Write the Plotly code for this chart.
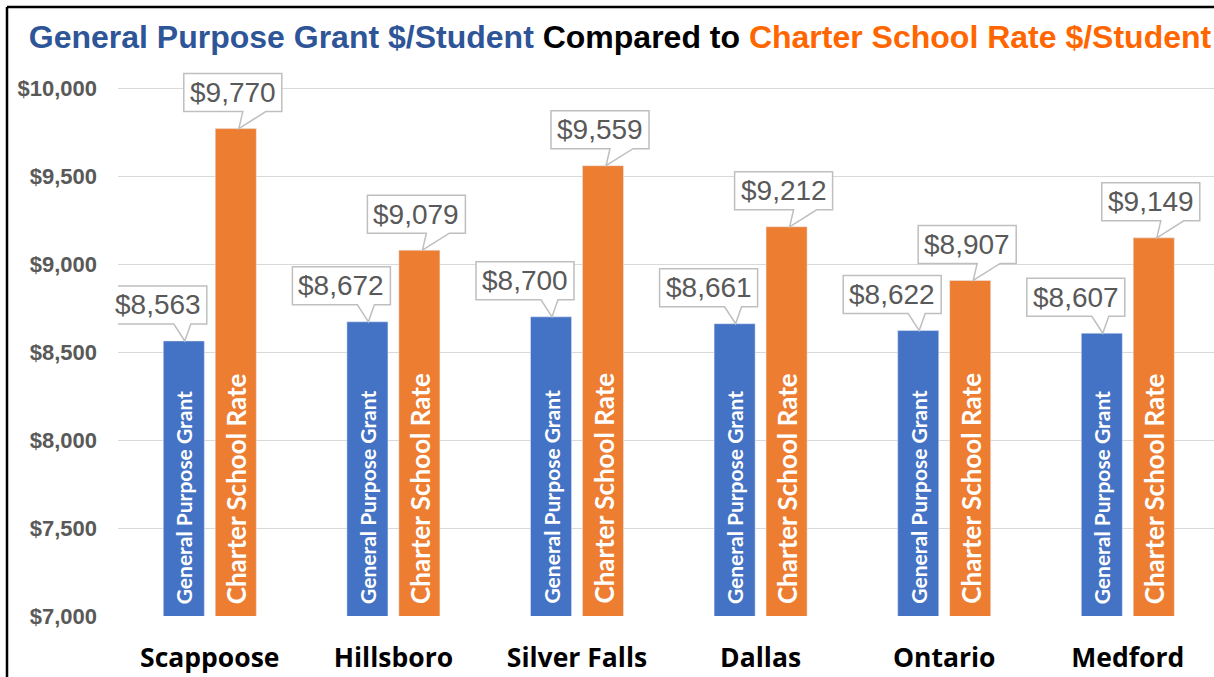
import plotly.graph_objects as go
import numpy as np

# ---- data ----
districts = ["Scappoose", "Hillsboro", "Silver Falls", "Dallas", "Ontario", "Medford"]
gpg_values = [8563, 8672, 8700, 8661, 8622, 8607]
charter_values = [9770, 9079, 9559, 9212, 8907, 9149]
series_names = ["General Purpose Grant", "Charter School Rate"]
y_ticks = [7000, 7500, 8000, 8500, 9000, 9500, 10000]
y_ticklabels = ["$7,000", "$7,500", "$8,000", "$8,500", "$9,000", "$9,500", "$10,000"]

BLUE = "#4472C4"
ORANGE = "#ED7D31"
x = np.arange(len(districts))
Y_BASE = y_ticks[0]

fig = go.Figure()
fig.add_trace(go.Bar(x=x, y=gpg_values, name=series_names[0], marker_color=BLUE, hoverinfo="none"))
fig.add_trace(go.Bar(x=x, y=charter_values, name=series_names[1], marker_color=ORANGE, hoverinfo="none"))

shapes = []
annotations = []

# ---- series names written inside the bars (rotated) ----
for i in range(len(districts)):
    for name, dx, size in ((series_names[0], -26, 21), (series_names[1], 26, 26)):
        annotations.append(dict(x=float(x[i]), y=Y_BASE, xref="x", yref="y", text=name,
                                showarrow=False, textangle=-90, xshift=dx, yshift=10,
                                xanchor="center", yanchor="bottom",
                                font=dict(family="Lato", size=size, color="white", weight="bold")))

# ---- callout data labels ----
BW, BH, GAP = 98, 38, 17
def callout(xi, val, bar_dx, box_dx, base_l, base_r, tip_dx):
    cx = bar_dx + box_dx
    path = (f"M {bar_dx + tip_dx} 0 L {bar_dx + base_r} {GAP} L {cx + BW/2} {GAP} "
            f"L {cx + BW/2} {GAP + BH} L {cx - BW/2} {GAP + BH} L {cx - BW/2} {GAP} "
            f"L {bar_dx + base_l} {GAP} Z")
    shapes.append(dict(type="path", xref="x", yref="y", xsizemode="pixel", ysizemode="pixel",
                       xanchor=xi, yanchor=val, path=path, fillcolor="white",
                       line=dict(color="#BFBFBF", width=1.5), layer="above"))
    annotations.append(dict(x=xi, y=val, xref="x", yref="y", text=f"${val:,}", showarrow=False,
                            xshift=cx, yshift=GAP + BH / 2, xanchor="center", yanchor="middle",
                            font=dict(family="Liberation Sans, Arial", size=28, color="#595959")))

for i in range(len(districts)):
    callout(float(x[i]), gpg_values[i], -26, -26, -10, 7, 1)
    callout(float(x[i]), charter_values[i], 26, -3, 7, 30, 3)

# ---- frame lines (left & top border) ----
W, H = 1214, 677
ML, MR, MT, MB = 118, 0, 67, 61
pw, ph = W - ML - MR, H - MT - MB
def px2paper_x(px):
    return (px - ML) / pw
def py2paper_y(py):
    return (H - MB - py) / ph
shapes.append(dict(type="line", xref="paper", yref="paper", x0=px2paper_x(7), x1=px2paper_x(7),
                   y0=py2paper_y(7), y1=py2paper_y(H + 5), line=dict(color="black", width=2.5)))
shapes.append(dict(type="line", xref="paper", yref="paper", x0=px2paper_x(7), x1=px2paper_x(W + 5),
                   y0=py2paper_y(7), y1=py2paper_y(7), line=dict(color="black", width=2.5)))

title_text = ("<span style='color:#2E5597'>General Purpose Grant $/Student</span> "
              "<span style='color:black'>Compared to</span> "
              "<span style='color:#FF6600'>Charter School Rate $/Student</span>")

fig.update_layout(
    width=W, height=H,
    margin=dict(l=ML, r=MR, t=MT, b=MB),
    paper_bgcolor="white", plot_bgcolor="white",
    barmode="group", bargap=0.434, bargroupgap=0.21,
    showlegend=False,
    title=dict(text=title_text, xref="container", yref="container", x=620 / W, y=1 - 37 / H,
               xanchor="center", yanchor="middle",
               font=dict(family="Liberation Sans, Arial", size=32, weight="bold")),
    shapes=shapes,
    annotations=annotations,
    xaxis=dict(range=[-0.5, -0.5 + pw / 183.6], tickvals=x, ticktext=districts,
               showgrid=False, zeroline=False, showline=False, ticks="",
               tickfont=dict(family="Open Sans", size=26.5, color="black", weight="bold"),
               ticklabelstandoff=23),
    yaxis=dict(range=[Y_BASE, 10120], tickvals=y_ticks, ticktext=y_ticklabels,
               showgrid=True, gridcolor="#D9D9D9", gridwidth=1, zeroline=False,
               showline=False, ticks="",
               tickfont=dict(family="Liberation Sans, Arial", size=22, color="#595959", weight="bold"),
               ticklabelstandoff=20),
)

fig.write_html("out.html", config={"displayModeBar": False},
               post_script="document.body.style.margin='0';document.body.style.overflow='hidden';")
